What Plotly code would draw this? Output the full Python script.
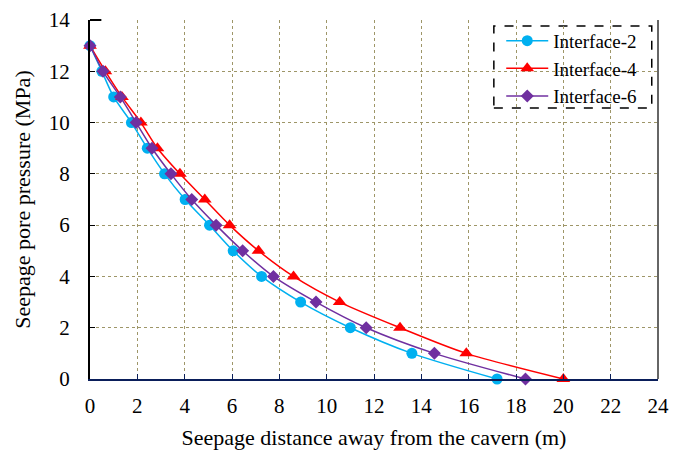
import plotly.graph_objects as go

pressure = [13, 12, 11, 10, 9, 8, 7, 6, 5, 4, 3, 2, 1, 0]
dist_if2 = [0, 0.5, 1.0, 1.75, 2.42, 3.15, 4.02, 5.05, 6.05, 7.25, 8.9, 11.0, 13.6, 17.2]
dist_if4 = [0, 0.65, 1.35, 2.15, 2.85, 3.8, 4.85, 5.9, 7.12, 8.6, 10.55, 13.1, 15.9, 20.0]
dist_if6 = [0, 0.55, 1.28, 1.95, 2.62, 3.42, 4.3, 5.33, 6.45, 7.75, 9.55, 11.67, 14.55, 18.4]

names = ["Interface-2", "Interface-4", "Interface-6"]
colors = ["#00B0F0", "#FF0000", "#7030A0"]
symbols = ["circle", "triangle-up", "diamond"]
sizes = [11, 12, 10]

fig = go.Figure()
for xs, nm, c, s, sz in zip([dist_if2, dist_if4, dist_if6], names, colors, symbols, sizes):
    fig.add_trace(go.Scatter(
        x=xs, y=pressure, name=nm, mode="lines+markers",
        line=dict(color=c, width=1.5, shape="spline", smoothing=0.8),
        marker=dict(symbol=s, size=sz, color=c),
        cliponaxis=False,
    ))

font = "Liberation Serif, Times New Roman, serif"
fig.update_layout(
    width=682, height=454,
    margin=dict(l=90, r=24, t=20, b=75, autoexpand=False),
    plot_bgcolor="white", paper_bgcolor="white",
    font=dict(family=font, size=21, color="black"),
    showlegend=True,
    legend=dict(x=0.724, y=0.995, xanchor="left", yanchor="top",
                bgcolor="rgba(0,0,0,0)", font=dict(family=font, size=19),
                tracegroupgap=0, itemwidth=42),
    xaxis=dict(range=[0, 24], dtick=2, tick0=0, automargin=False,
               showgrid=True, gridcolor="#9E9668", griddash="dot", gridwidth=1,
               showline=True, linecolor="#0A1E5A", linewidth=2, mirror=False,
               ticks="inside", ticklen=5, tickcolor="#0A1E5A", zeroline=False,
               ticklabelstandoff=7,
               title=dict(text="Seepage distance away from the cavern (m)", font=dict(size=22), standoff=12),
               tickfont=dict(size=21)),
    yaxis=dict(range=[0, 14], dtick=2, tick0=0, automargin=False,
               showgrid=True, gridcolor="#9E9668", griddash="dot", gridwidth=1,
               showline=True, linecolor="black", linewidth=2, mirror=False,
               ticks="inside", ticklen=5, tickcolor="black", zeroline=False,
               ticklabelstandoff=14,
               title=dict(text="Seepage pore pressure (MPa)", font=dict(size=22), standoff=12),
               tickfont=dict(size=21)),
)
# right border and top border
fig.add_shape(type="line", xref="paper", yref="paper", x0=1, x1=1, y0=0, y1=1,
              line=dict(color="#333333", width=1.5))
fig.add_shape(type="line", xref="paper", yref="paper", x0=0, x1=0.02, y0=1, y1=1,
              line=dict(color="black", width=2))
# dashed legend box
fig.add_shape(type="rect", xref="paper", yref="paper",
              x0=0.711, x1=0.989, y0=0.755, y1=0.983,
              line=dict(color="black", width=1.5, dash="dash"),
              fillcolor="white", layer="below")

fig.write_html("out.html")
